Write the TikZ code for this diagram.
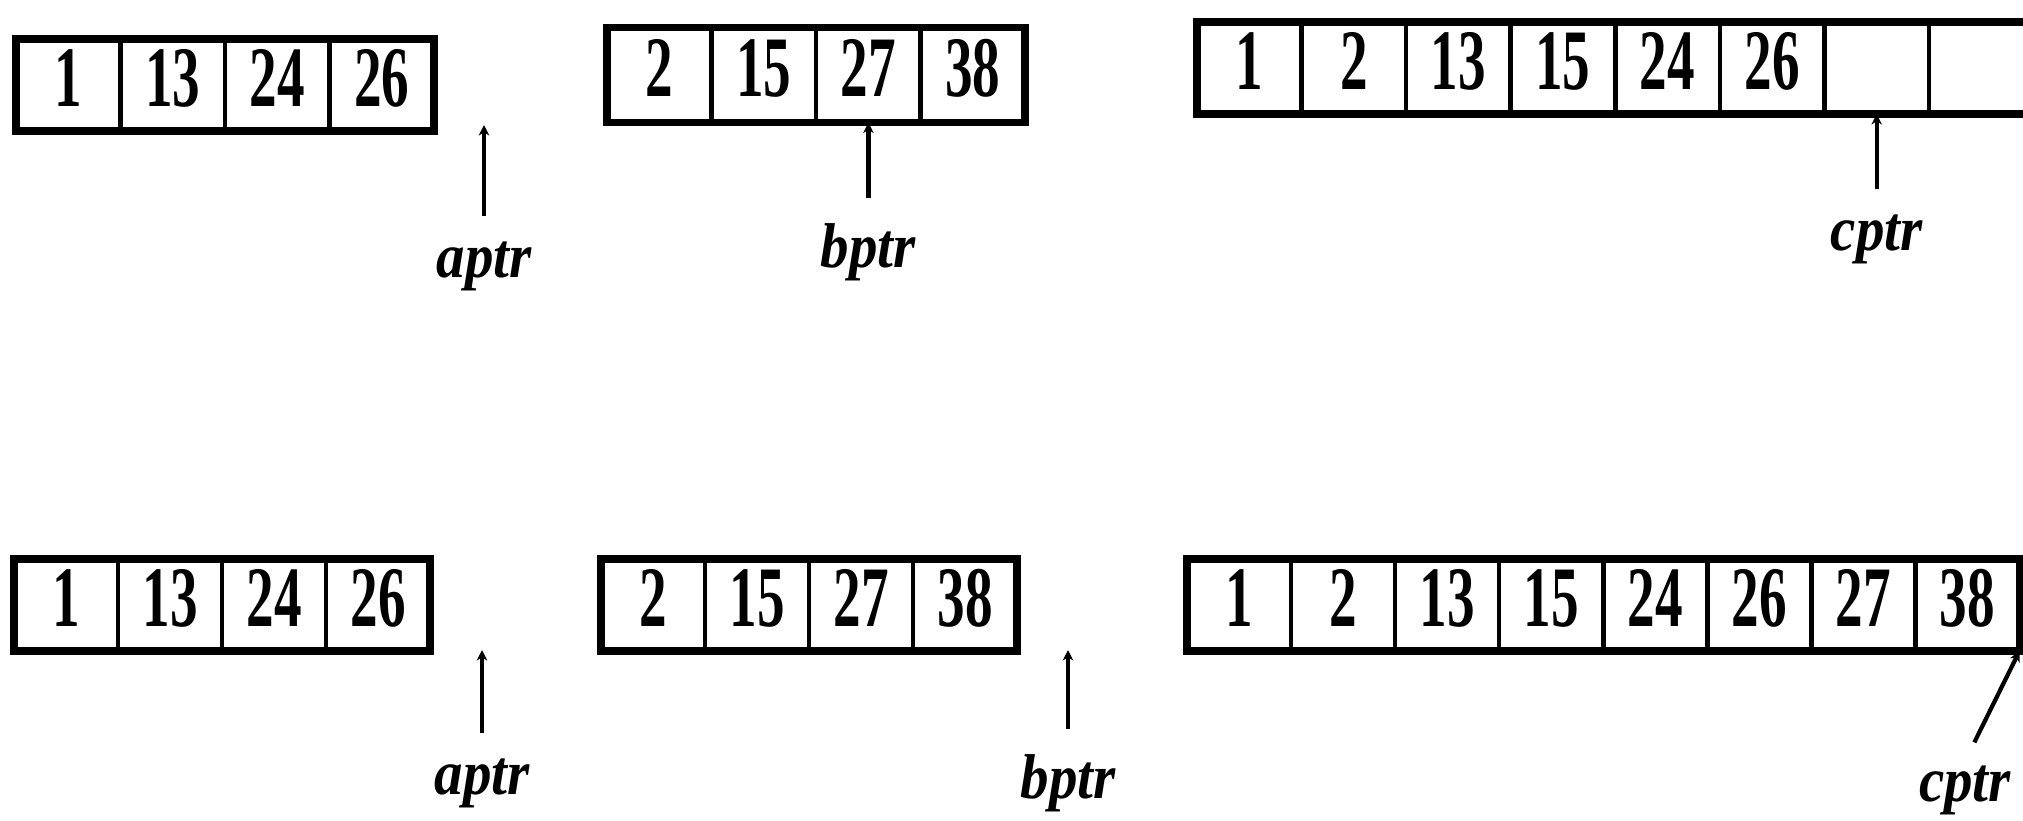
\documentclass[tikz,border=0pt]{standalone}
\usepackage{fontspec}
\usepackage{tikz}
\usetikzlibrary{positioning, arrows.meta}

\newfontfamily\cellfont[FakeStretch=0.64]{Liberation Serif}
\newfontfamily\ptrfont[FakeStretch=0.9]{Liberation Serif}

\begin{document}
\begin{tikzpicture}[
          x=0.01cm, y=-0.01cm,
          cell/.style = {draw, line width=1.3pt, outer sep=0pt, minimum width=1.045cm, minimum height=0.92cm, inner sep=0pt, text depth=0.14cm, font=\cellfont\bfseries\fontsize{24.5}{24.5}\selectfont},
          frame/.style = {draw, line width=2.2pt},
          ptr/.style = {font=\ptrfont\bfseries\itshape\fontsize{18}{18}\selectfont, inner sep=1pt},
          link/.style = {-{Stealth[length=3pt, width=3pt]}, line width=1.2pt, shorten <=6pt}
         ]
        \useasboundingbox (0,0) rectangle (2023,820);

        % Schritt: a und b teilweise gemischt
        \node[cell, anchor=west] (a1) at (16,85) {1};
        \foreach \v [count=\i] in {13,24,26} {
          \pgfmathtruncatemacro\j{\i+1}
          \node[cell, right=0pt of a\i] (a\j) {\v};
        }
        \draw[frame] (a1.north west) rectangle (a4.south east);

        \node[cell, anchor=west, minimum height=0.95cm] (b1) at (607,75) {2};
        \foreach \v [count=\i] in {15,27,38} {
          \pgfmathtruncatemacro\j{\i+1}
          \node[cell, minimum height=0.95cm, right=0pt of b\i] (b\j) {\v};
        }
        \draw[frame] (b1.north west) rectangle (b4.south east);

        \node[cell, anchor=west] (c1) at (1197,68) {1};
        \foreach \v [count=\i] in {2,13,15,24,26,{},{}} {
          \pgfmathtruncatemacro\j{\i+1}
          \node[cell, right=0pt of c\i] (c\j) {\v};
        }
        \draw[frame] (c1.north west) rectangle (c8.south east);

        % Zeiger
        \node[ptr] (aptr) at (484,266) {aptr};
        \coordinate (aend) at (484,125);
        \draw[link] (aptr) -- (aend);
        \node[ptr] (bptr) at (b3 |- 0,252) {bptr};
        \draw[link] (bptr) -- (b3.south);
        \node[ptr] (cptr) at (c7 |- 0,239) {cptr};
        \draw[link] (cptr) -- (c7.south);

        % Ende: alles gemischt
        \node[cell, anchor=west, minimum width=1.04cm] (fa1) at (14,605) {1};
        \foreach \v [count=\i] in {13,24,26} {
          \pgfmathtruncatemacro\j{\i+1}
          \node[cell, minimum width=1.04cm, right=0pt of fa\i] (fa\j) {\v};
        }
        \draw[frame] (fa1.north west) rectangle (fa4.south east);

        \node[cell, anchor=west, minimum width=1.04cm] (fb1) at (601,605) {2};
        \foreach \v [count=\i] in {15,27,38} {
          \pgfmathtruncatemacro\j{\i+1}
          \node[cell, minimum width=1.04cm, right=0pt of fb\i] (fb\j) {\v};
        }
        \draw[frame] (fb1.north west) rectangle (fb4.south east);

        \node[cell, anchor=west, minimum width=1.04cm] (fc1) at (1187,605) {1};
        \foreach \v [count=\i] in {2,13,15,24,26,27,38} {
          \pgfmathtruncatemacro\j{\i+1}
          \node[cell, minimum width=1.04cm, right=0pt of fc\i] (fc\j) {\v};
        }
        \draw[frame] (fc1.north west) rectangle (fc8.south east);

        \node[ptr] (faptr) at (482,783) {aptr};
        \coordinate (faend) at (482,650);
        \draw[link] (faptr) -- (faend);
        \node[ptr] (fbptr) at (1068,783) {bptr};
        \coordinate (fbend) at (1068,650);
        \draw[link] (fbptr) -- (fbend);
        \node[ptr] (fcptr) at (1965,790) {cptr};
        \draw[link] (fcptr.north) -- (fc8.south east);

\end{tikzpicture}
\end{document}
